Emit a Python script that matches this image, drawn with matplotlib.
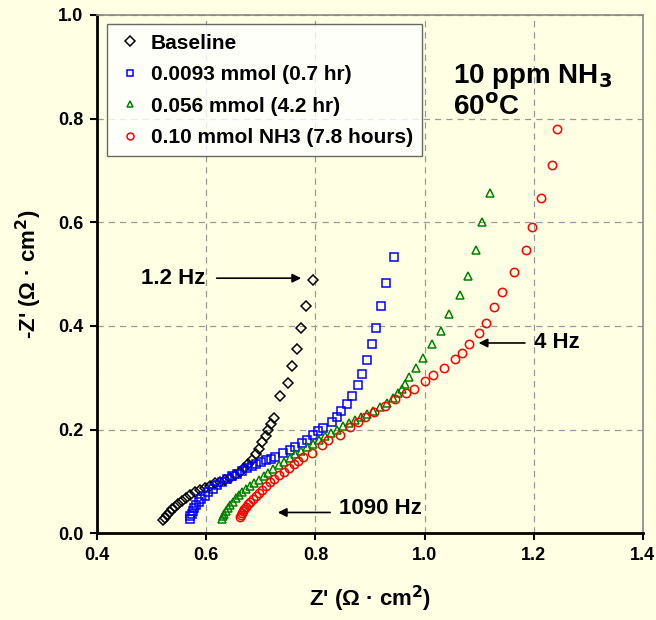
import matplotlib
matplotlib.use("Agg")
import matplotlib.pyplot as plt

plt.rcParams["font.family"] = ["Liberation Sans", "DejaVu Sans"]
plt.rcParams["font.weight"] = "bold"

BG = "#FFFFE3"

# Nyquist data, Z' / -Z'' in ohm cm2, high frequency first
base_x = [0.520, 0.524, 0.528, 0.533, 0.538, 0.543, 0.549, 0.556, 0.563, 0.571,
          0.580, 0.589, 0.598, 0.607, 0.616, 0.625, 0.634, 0.643, 0.652, 0.661,
          0.669, 0.677, 0.684, 0.691, 0.697, 0.703, 0.709, 0.714, 0.719, 0.724,
          0.735, 0.750, 0.757, 0.766, 0.774, 0.783, 0.796]
base_y = [0.025, 0.030, 0.035, 0.040, 0.046, 0.051, 0.057, 0.063, 0.068, 0.074,
          0.079, 0.084, 0.088, 0.092, 0.096, 0.099, 0.103, 0.107, 0.112, 0.118,
          0.125, 0.133, 0.142, 0.152, 0.163, 0.175, 0.187, 0.199, 0.210, 0.222,
          0.264, 0.290, 0.322, 0.355, 0.396, 0.438, 0.488]

blue_x = [0.570, 0.571, 0.573, 0.575, 0.578, 0.582, 0.586, 0.591, 0.597, 0.604,
          0.612, 0.620, 0.629, 0.638, 0.647, 0.656, 0.665, 0.674, 0.683, 0.692,
          0.701, 0.710, 0.719, 0.726, 0.741, 0.753, 0.763, 0.775, 0.785, 0.796,
          0.805, 0.814, 0.830, 0.840, 0.847, 0.858, 0.867, 0.878, 0.886, 0.894,
          0.904, 0.911, 0.920, 0.929, 0.944]
blue_y = [0.028, 0.033, 0.038, 0.043, 0.048, 0.054, 0.060, 0.066, 0.072, 0.079,
          0.086, 0.093, 0.099, 0.105, 0.110, 0.115, 0.120, 0.125, 0.129, 0.133,
          0.137, 0.141, 0.144, 0.147, 0.154, 0.160, 0.166, 0.174, 0.180, 0.189,
          0.197, 0.203, 0.214, 0.224, 0.236, 0.249, 0.264, 0.286, 0.307, 0.334,
          0.365, 0.396, 0.438, 0.483, 0.533]

green_x = [0.628, 0.630, 0.633, 0.636, 0.640, 0.644, 0.649, 0.654, 0.660, 0.666,
           0.673, 0.680, 0.688, 0.696, 0.705, 0.714, 0.723, 0.733, 0.743, 0.753,
           0.763, 0.773, 0.784, 0.795, 0.806, 0.817, 0.828, 0.839, 0.850, 0.861,
           0.872, 0.883, 0.894, 0.905, 0.918, 0.931, 0.942, 0.951, 0.959, 0.964,
           0.971, 0.984, 0.997, 1.014, 1.030, 1.045, 1.065, 1.079, 1.094, 1.105,
           1.120]
green_y = [0.028, 0.033, 0.038, 0.043, 0.049, 0.055, 0.061, 0.067, 0.073, 0.079,
           0.085, 0.091, 0.097, 0.103, 0.110, 0.117, 0.124, 0.131, 0.138, 0.145,
           0.152, 0.159, 0.166, 0.173, 0.180, 0.187, 0.194, 0.200, 0.207, 0.213,
           0.219, 0.225, 0.230, 0.236, 0.243, 0.251, 0.261, 0.270, 0.279, 0.288,
           0.301, 0.319, 0.338, 0.365, 0.390, 0.423, 0.459, 0.496, 0.546, 0.600,
           0.656]

red_x = [0.662, 0.663, 0.665, 0.667, 0.670, 0.673, 0.677, 0.681, 0.686, 0.691,
         0.697, 0.703, 0.710, 0.717, 0.725, 0.733, 0.742, 0.751, 0.760, 0.768,
         0.777, 0.794, 0.812, 0.823, 0.845, 0.863, 0.878, 0.891, 0.907, 0.927,
         0.946, 0.966, 0.981, 1.001, 1.015, 1.036, 1.056, 1.068, 1.081, 1.099,
         1.112, 1.127, 1.142, 1.164, 1.186, 1.197, 1.213, 1.233, 1.243]
red_y = [0.031, 0.035, 0.039, 0.043, 0.047, 0.051, 0.056, 0.061, 0.066, 0.072,
         0.078, 0.084, 0.091, 0.098, 0.105, 0.112, 0.119, 0.126, 0.133, 0.140,
         0.147, 0.154, 0.170, 0.180, 0.189, 0.205, 0.214, 0.224, 0.234, 0.245,
         0.259, 0.270, 0.278, 0.293, 0.305, 0.319, 0.336, 0.347, 0.365, 0.386,
         0.405, 0.436, 0.465, 0.504, 0.546, 0.591, 0.647, 0.710, 0.780]

labels = ["Baseline", "0.0093 mmol (0.7 hr)", "0.056 mmol (4.2 hr)",
          "0.10 mmol NH3 (7.8 hours)"]

fig = plt.figure(figsize=(6.56, 6.2), dpi=100, facecolor=BG)
ax = fig.add_axes([0.148, 0.140, 0.832, 0.836], facecolor=BG)

ax.plot(base_x, base_y, "D", ms=5.5, mfc="none", mec="black", mew=1.1, label=labels[0])
ax.plot(blue_x, blue_y, "s", ms=6, mfc="none", mec="#0000FF", mew=1.1, label=labels[1])
ax.plot(green_x, green_y, "^", ms=6, mfc="none", mec="#008000", mew=1.1, label=labels[2])
ax.plot(red_x, red_y, "o", ms=6, mfc="none", mec="#FF0000", mew=1.1, label=labels[3])

ax.set_xlim(0.4, 1.4)
ax.set_ylim(0.0, 1.0)
ax.set_xticks([0.4, 0.6, 0.8, 1.0, 1.2, 1.4])
ax.set_yticks([0.0, 0.2, 0.4, 0.6, 0.8, 1.0])
ax.set_xticklabels(["0.4", "0.6", "0.8", "1.0", "1.2", "1.4"])
ax.set_yticklabels(["0.0", "0.2", "0.4", "0.6", "0.8", "1.0"])
ax.tick_params(labelsize=13, width=1.5, length=5, direction="out", pad=5)
ax.grid(True, color="#999999", linestyle=(0, (5, 4)), linewidth=0.9)

for side in ("left", "bottom"):
    ax.spines[side].set_linewidth(2)
    ax.spines[side].set_color("black")
for side in ("top", "right"):
    ax.spines[side].set_linewidth(1.2)
    ax.spines[side].set_color("#888888")

ax.set_xlabel("Z' (Ω · cm$^2$)", fontsize=16, fontweight="bold", labelpad=14)
ax.set_ylabel("-Z' (Ω · cm$^2$)", fontsize=16, fontweight="bold", labelpad=10)

leg = ax.legend(loc="upper left", bbox_to_anchor=(0.018, 0.982), fontsize=15,
                frameon=True, fancybox=False, edgecolor="#444444",
                handletextpad=0.35, borderpad=0.45, labelspacing=0.6,
                handlelength=1.3, borderaxespad=0)
leg.get_frame().set_facecolor("white")
leg.get_frame().set_linewidth(1.0)
for h in leg.legend_handles:
    h.set_markersize(5)

ax.text(1.052, 0.882, "10 ppm NH$_3$", fontsize=20, fontweight="bold", va="center")
ax.text(1.052, 0.820, "60$^{\\mathrm{o}}$C", fontsize=20, fontweight="bold", va="center")

arrow = dict(arrowstyle="-|>", color="black", lw=1.2, mutation_scale=13)
ax.annotate("", xy=(0.779, 0.492), xytext=(0.614, 0.492), arrowprops=arrow)
ax.text(0.598, 0.492, "1.2 Hz", fontsize=16, fontweight="bold", ha="right", va="center")
ax.annotate("", xy=(1.094, 0.367), xytext=(1.189, 0.367), arrowprops=arrow)
ax.text(1.200, 0.367, "4 Hz", fontsize=16, fontweight="bold", ha="left", va="center")
ax.annotate("", xy=(0.726, 0.040), xytext=(0.832, 0.040), arrowprops=arrow)
ax.text(0.843, 0.048, "1090 Hz", fontsize=16, fontweight="bold", ha="left", va="center")

fig.savefig("out.png", dpi=100, facecolor=BG)
